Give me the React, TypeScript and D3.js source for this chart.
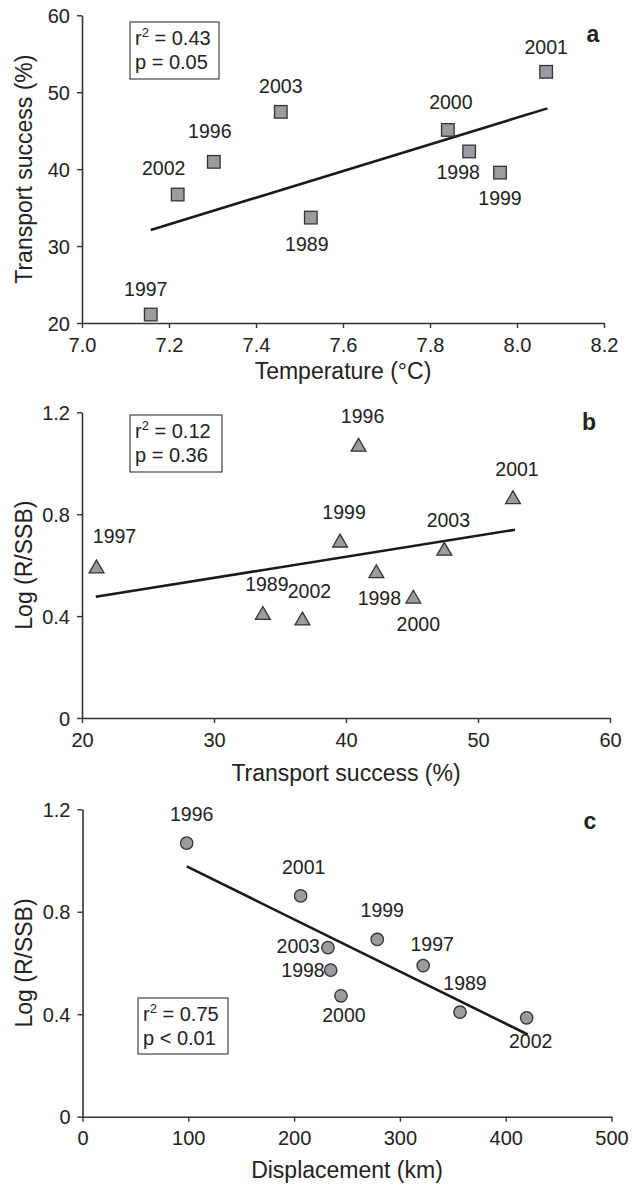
import React, { useEffect, useRef } from 'react';
import * as d3 from 'd3';

// values
const years = ['1989', '1996', '1997', '1998', '1999', '2000', '2001', '2002', '2003'];
const temperature = [7.526, 7.303, 7.158, 7.89, 7.961, 7.841, 8.067, 7.22, 7.457];
const transport = [33.7, 40.95, 21.1, 42.3, 39.55, 45.1, 52.65, 36.7, 47.45];
const logRS = [0.408, 1.068, 0.59, 0.572, 0.692, 0.472, 0.862, 0.386, 0.66];
const displacement = [356.8, 98.5, 322, 234.6, 278.6, 244.3, 206.2, 419.8, 232];

// fitted regression lines (end points)
const fitA = { x: [7.158, 8.07], y: [32.1, 47.9] };
const fitB = { x: [21.04, 52.8], y: [0.476, 0.739] };
const fitC = { x: [98.5, 420.8], y: [0.977, 0.321] };

const ticksA = { x: [7.0, 7.2, 7.4, 7.6, 7.8, 8.0, 8.2], y: [20, 30, 40, 50, 60] };
const ticksB = { x: [20, 30, 40, 50, 60], y: [0, 0.4, 0.8, 1.2] };
const ticksC = { x: [0, 100, 200, 300, 400, 500], y: [0, 0.4, 0.8, 1.2] };

const statsA = ['0.43', 'p = 0.05'];
const statsB = ['0.12', 'p = 0.36'];
const statsC = ['0.75', 'p < 0.01'];

// label placement relative to marker centre: [dx, dy, anchor]
type Place = [number, number, string];
const labelsA: Record<string, Place> = {
  '1997': [-5, -19, 'middle'], '2002': [-14, -20, 'middle'], '1996': [-4, -24, 'middle'],
  '2003': [0, -19, 'middle'], '1989': [-4, 33, 'middle'], '2000': [3, -21, 'middle'],
  '1998': [-11, 28, 'middle'], '1999': [0, 32, 'middle'], '2001': [0, -18, 'middle'],
};
const labelsB: Record<string, Place> = {
  '1997': [18, -25, 'middle'], '1989': [4, -23, 'middle'], '2002': [7, -22, 'middle'],
  '1996': [4, -23, 'middle'], '1999': [4, -23, 'middle'], '1998': [3, 33, 'middle'],
  '2000': [5, 33, 'middle'], '2003': [4, -23, 'middle'], '2001': [4, -22, 'middle'],
};
const labelsC: Record<string, Place> = {
  '1996': [5, -22, 'middle'], '2001': [3, -22, 'middle'], '2003': [-8, 5, 'end'],
  '1998': [-6, 7, 'end'], '2000': [3, 26, 'middle'], '1999': [5, -22, 'middle'],
  '1997': [9, -15, 'middle'], '1989': [5, -22, 'middle'], '2002': [4, 30, 'middle'],
};

const FONT = '"Liberation Sans", Arial, Helvetica, sans-serif';
const INK = '#222';
const MARK_FILL = '#9c9ca0';
const MARK_STROKE = '#333';

interface PanelSpec {
  xs: number[];
  ys: number[];
  xDomain: [number, number];
  yDomain: [number, number];
  xRange: [number, number];
  yRange: [number, number];
  xTicks: number[];
  yTicks: number[];
  xFmt: (d: number) => string;
  yFmt: (d: number) => string;
  fit: { x: number[]; y: number[] };
  marker: 'square' | 'triangle' | 'circle';
  labels: Record<string, Place>;
  stats: string[];
  box: [number, number, number, number];
  letter: string;
  letterPos: [number, number];
  xTitle: string;
  xTitleY: number;
  yTitle: string;
  tickLabelDy: number;
}

const panels: PanelSpec[] = [
  {
    xs: temperature, ys: transport,
    xDomain: [7.0, 8.2], yDomain: [20, 60],
    xRange: [82, 604], yRange: [323, 15.3],
    xTicks: ticksA.x, yTicks: ticksA.y,
    xFmt: d3.format('.1f'), yFmt: d3.format('d'),
    fit: fitA, marker: 'square', labels: labelsA, stats: statsA,
    box: [130, 22, 89, 57], letter: 'a', letterPos: [593, 42],
    xTitle: 'Temperature (°C)', xTitleY: 379, yTitle: 'Transport success (%)', tickLabelDy: 29,
  },
  {
    xs: transport, ys: logRS,
    xDomain: [20, 60], yDomain: [0, 1.2],
    xRange: [82, 610], yRange: [718, 412.3],
    xTicks: ticksB.x, yTicks: ticksB.y,
    xFmt: d3.format('d'), yFmt: (d) => (d === 0 ? '0' : d3.format('.1f')(d)),
    fit: fitB, marker: 'triangle', labels: labelsB, stats: statsB,
    box: [130, 415, 92, 57], letter: 'b', letterPos: [589, 430],
    xTitle: 'Transport success (%)', xTitleY: 781, yTitle: 'Log (R/SSB)', tickLabelDy: 29,
  },
  {
    xs: displacement, ys: logRS,
    xDomain: [0, 500], yDomain: [0, 1.2],
    xRange: [82.5, 611.5], yRange: [1116.7, 809.3],
    xTicks: ticksC.x, yTicks: ticksC.y,
    xFmt: d3.format('d'), yFmt: (d) => (d === 0 ? '0' : d3.format('.1f')(d)),
    fit: fitC, marker: 'circle', labels: labelsC, stats: statsC,
    box: [138, 998, 90, 56], letter: 'c', letterPos: [590, 829],
    xTitle: 'Displacement (km)', xTitleY: 1178, yTitle: 'Log (R/SSB)', tickLabelDy: 28,
  },
];

const App: React.FC = () => {
  const svgRef = useRef<SVGSVGElement>(null);

  useEffect(() => {
    if (!svgRef.current) return;
    const svg = d3.select(svgRef.current);
    svg.selectAll('*').remove();

    panels.forEach((p) => {
      const g = svg.append('g');
      const x = d3.scaleLinear().domain(p.xDomain).range(p.xRange);
      const y = d3.scaleLinear().domain(p.yDomain).range(p.yRange);
      const y0 = p.yRange[0];
      const x0 = p.xRange[0];

      // x axis
      const xAxis = g.append('g')
        .attr('transform', `translate(0, ${y0})`)
        .call(d3.axisBottom(x).tickValues(p.xTicks).tickSize(5).tickSizeOuter(0).tickPadding(0)
          .tickFormat((d: any) => p.xFmt(d)) as any);
      xAxis.select('.domain').attr('stroke', '#333').attr('stroke-width', 1.6).attr('fill', 'none');
      xAxis.selectAll('.tick line').attr('stroke', '#333').attr('stroke-width', 1.4);
      xAxis.selectAll('.tick text')
        .attr('y', p.tickLabelDy).attr('dy', null)
        .attr('font-family', FONT).attr('font-size', 20).attr('fill', INK);

      // y axis
      const yAxis = g.append('g')
        .attr('transform', `translate(${x0}, 0)`)
        .call(d3.axisLeft(y).tickValues(p.yTicks).tickSize(5).tickSizeOuter(0).tickPadding(7)
          .tickFormat((d: any) => p.yFmt(d)) as any);
      yAxis.select('.domain').attr('stroke', '#333').attr('stroke-width', 1.6).attr('fill', 'none');
      yAxis.selectAll('.tick line').attr('stroke', '#333').attr('stroke-width', 1.4);
      yAxis.selectAll('.tick text')
        .attr('dy', '0.36em')
        .attr('font-family', FONT).attr('font-size', 20).attr('fill', INK);

      // axis titles
      g.append('text')
        .attr('x', (p.xRange[0] + p.xRange[1]) / 2)
        .attr('y', p.xTitleY)
        .attr('text-anchor', 'middle')
        .attr('font-family', FONT).attr('font-size', 23).attr('fill', INK)
        .text(p.xTitle);
      const yc = (p.yRange[0] + p.yRange[1]) / 2;
      g.append('text')
        .attr('transform', `translate(32, ${yc}) rotate(-90)`)
        .attr('text-anchor', 'middle')
        .attr('font-family', FONT).attr('font-size', 23).attr('fill', INK)
        .text(p.yTitle);

      // regression line
      const line = d3.line<number>()
        .x((_, i) => x(p.fit.x[i]))
        .y((d) => y(d));
      g.append('path')
        .datum(p.fit.y)
        .attr('d', line)
        .attr('fill', 'none')
        .attr('stroke', '#1a1a1a')
        .attr('stroke-width', 2.6);

      // markers
      const pts = years.map((yr, i) => ({ yr, cx: x(p.xs[i]), cy: y(p.ys[i]) }));
      const marks = g.append('g').selectAll('.mark').data(pts).enter();
      let sel: any;
      if (p.marker === 'square') {
        sel = marks.append('rect')
          .attr('x', (d) => d.cx - 6.3).attr('y', (d) => d.cy - 6.3)
          .attr('width', 12.6).attr('height', 12.6);
      } else if (p.marker === 'triangle') {
        const tri = d3.symbol().type(d3.symbolTriangle).size(95);
        sel = marks.append('path')
          .attr('d', tri as any)
          .attr('transform', (d) => `translate(${d.cx}, ${d.cy + 1})`);
      } else {
        sel = marks.append('circle')
          .attr('cx', (d) => d.cx).attr('cy', (d) => d.cy).attr('r', 6.2);
      }
      sel.attr('fill', MARK_FILL).attr('stroke', MARK_STROKE).attr('stroke-width', 1.3);

      // year labels
      g.selectAll('.yr')
        .data(pts)
        .enter()
        .append('text')
        .attr('class', 'yr')
        .attr('x', (d) => d.cx + p.labels[d.yr][0])
        .attr('y', (d) => d.cy + p.labels[d.yr][1])
        .attr('text-anchor', (d) => p.labels[d.yr][2])
        .attr('font-family', FONT).attr('font-size', 19.5).attr('fill', INK)
        .text((d) => d.yr);

      // stats box
      const [bx, by, bw, bh] = p.box;
      g.append('rect')
        .attr('x', bx).attr('y', by).attr('width', bw).attr('height', bh)
        .attr('fill', 'white').attr('stroke', '#333').attr('stroke-width', 1.1);
      const t1 = g.append('text')
        .attr('x', bx + 5).attr('y', by + 23)
        .attr('font-family', FONT).attr('font-size', 20).attr('fill', INK);
      t1.append('tspan').text('r');
      t1.append('tspan').attr('font-size', 13).attr('dy', -8).text('2');
      t1.append('tspan').attr('dy', 8).text(` = ${p.stats[0]}`);
      g.append('text')
        .attr('x', bx + 5).attr('y', by + 47)
        .attr('font-family', FONT).attr('font-size', 20).attr('fill', INK)
        .text(p.stats[1]);

      // panel letter
      g.append('text')
        .attr('x', p.letterPos[0]).attr('y', p.letterPos[1])
        .attr('text-anchor', 'middle')
        .attr('font-family', FONT).attr('font-size', 23).attr('font-weight', 'bold').attr('fill', INK)
        .text(p.letter);
    });
  }, []);

  return (
    <svg
      ref={svgRef}
      width={633}
      height={1186}
      style={{ position: 'absolute', left: 0, top: 0, background: 'white', display: 'block' }}
    />
  );
};

export default App;
